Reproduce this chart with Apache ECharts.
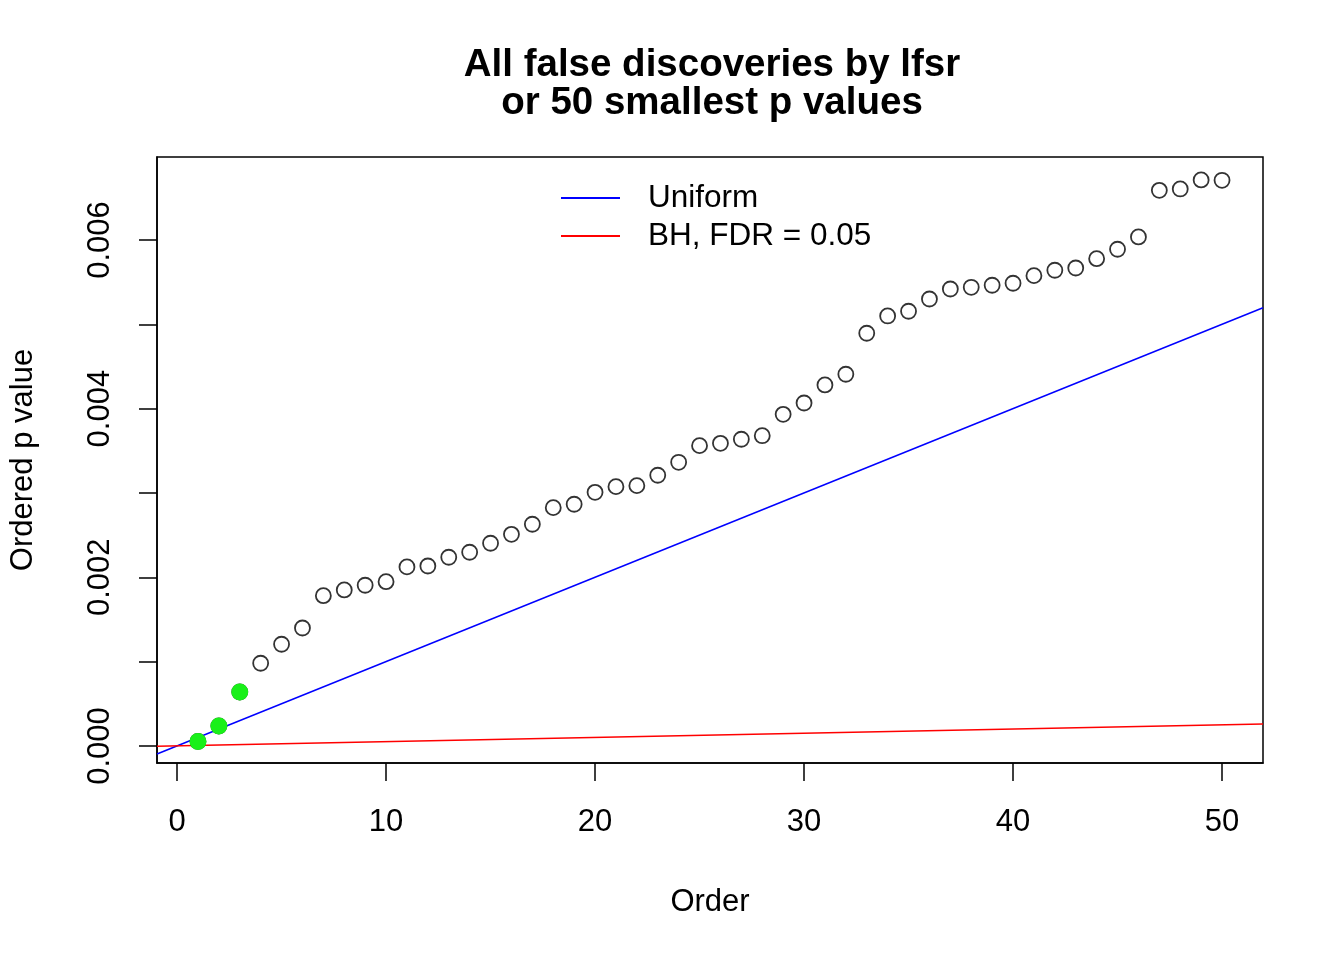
<!DOCTYPE html>
<html>
<head>
<meta charset="utf-8">
<script src="https://cdn.jsdelivr.net/npm/echarts@6/dist/echarts.min.js"></script>
<style>html,body{margin:0;padding:0;background:#fff}#c{width:1344px;height:960px}</style>
</head>
<body>
<div id="c"></div>
<script>
// Data
var order = [1,2,3,4,5,6,7,8,9,10,11,12,13,14,15,16,17,18,19,20,21,22,23,24,25,26,27,28,29,30,31,32,33,34,35,36,37,38,39,40,41,42,43,44,45,46,47,48,49,50];
var pValues = [0.0000534,0.000237,0.000640,0.000981,0.001206,0.001399,0.001782,0.001850,0.001906,0.001948,
  0.002123,0.002134,0.002238,0.002297,0.002404,0.002510,0.002629,0.002826,0.002866,0.003008,
  0.003075,0.003087,0.003210,0.003364,0.003561,0.003589,0.003637,0.003679,0.003933,0.004067,
  0.004281,0.004408,0.004894,0.005099,0.005155,0.005300,0.005419,0.005439,0.005463,0.005487,
  0.005577,0.005641,0.005668,0.005778,0.005890,0.006036,0.006589,0.006605,0.006712,0.006708];
var lfsrDiscoveries = 3; // first 3 ordered points highlighted in green
var uniformLine = [[-0.96, -0.000096], [51.96, 0.005196]];
var bhLine = [[-0.96, -0.0000048], [51.96, 0.0002598]];
var xTicks = [0, 10, 20, 30, 40, 50];
var yTicks = [0, 0.001, 0.002, 0.003, 0.004, 0.005, 0.006];
var yLabels = [0, 0.002, 0.004, 0.006];

var openPts = [], greenPts = [];
for (var i = 0; i < order.length; i++) {
  openPts.push([order[i], pValues[i]]);
  if (i < lfsrDiscoveries) greenPts.push([order[i], pValues[i]]);
}

var FONT = '"Liberation Sans", Arial, Helvetica, sans-serif';
var chart = echarts.init(document.getElementById('c'), null, {renderer: 'canvas'});
chart.setOption({
  animation: false,
  backgroundColor: '#fff',
  title: {
    text: 'All false discoveries by lfsr\nor 50 smallest p values',
    left: 707, top: 41, textAlign: 'center',
    textStyle: {fontFamily: FONT, fontWeight: 'bold', fontSize: 38.5, lineHeight: 38, color: '#000'}
  },
  legend: {
    orient: 'vertical', left: 556, top: 174, itemGap: 0,
    itemWidth: 59, itemHeight: 2,
    data: [
      {name: 'Uniform', icon: 'rect', itemStyle: {color: '#0000ff'}},
      {name: 'BH, FDR = 0.05', icon: 'rect', itemStyle: {color: '#ff0000'}}
    ],
    textStyle: {fontFamily: FONT, fontSize: 31.5, lineHeight: 38, color: '#000', padding: [0, 0, 0, 23]},
    selectedMode: false
  },
  grid: {left: 157, top: 157, width: 1106, height: 606, show: true, borderColor: '#000', borderWidth: 1.5, backgroundColor: 'transparent'},
  xAxis: {
    type: 'value', min: -0.96, max: 51.96,
    name: 'Order', nameLocation: 'middle', nameGap: 124,
    nameTextStyle: {fontFamily: FONT, fontSize: 31, color: '#000'},
    axisLine: {show: true, onZero: false, lineStyle: {color: '#000', width: 1.5}},
    axisTick: {show: true, length: 18, customValues: xTicks, lineStyle: {color: '#000', width: 1.5}},
    axisLabel: {customValues: xTicks, fontFamily: FONT, fontSize: 31, color: '#000', margin: 44},
    splitLine: {show: false}
  },
  yAxis: {
    type: 'value', min: -0.000202, max: 0.006984,
    name: 'Ordered p value', nameLocation: 'middle', nameGap: 118, nameRotate: 90,
    nameTextStyle: {fontFamily: FONT, fontSize: 31, color: '#000'},
    axisLine: {show: true, onZero: false, lineStyle: {color: '#000', width: 1.5}},
    axisTick: {show: true, length: 18, customValues: yTicks, lineStyle: {color: '#000', width: 1.5}},
    axisLabel: {customValues: yLabels, rotate: 90, fontFamily: FONT, fontSize: 31, color: '#000', margin: 41,
      formatter: function (v) { return v.toFixed(3); }},
    splitLine: {show: false}
  },
  series: [
    {name: 'Uniform', type: 'line', data: uniformLine, showSymbol: false, symbol: 'none',
      lineStyle: {color: '#0000ff', width: 1.5}, itemStyle: {color: '#0000ff'}, clip: true, z: 2},
    {name: 'BH, FDR = 0.05', type: 'line', data: bhLine, showSymbol: false, symbol: 'none',
      lineStyle: {color: '#ff0000', width: 1.5}, itemStyle: {color: '#ff0000'}, clip: true, z: 2},
    {name: 'p', type: 'scatter', data: openPts, symbol: 'circle', symbolSize: 15,
      itemStyle: {color: 'rgba(0,0,0,0)', borderColor: '#000', borderWidth: 1.8}, z: 3},
    {name: 'lfsr', type: 'scatter', data: greenPts, symbol: 'circle', symbolSize: 17,
      itemStyle: {color: '#19f019', borderColor: '#19f019', borderWidth: 0, opacity: 1}, z: 4}
  ]
});
</script>
</body>
</html>
